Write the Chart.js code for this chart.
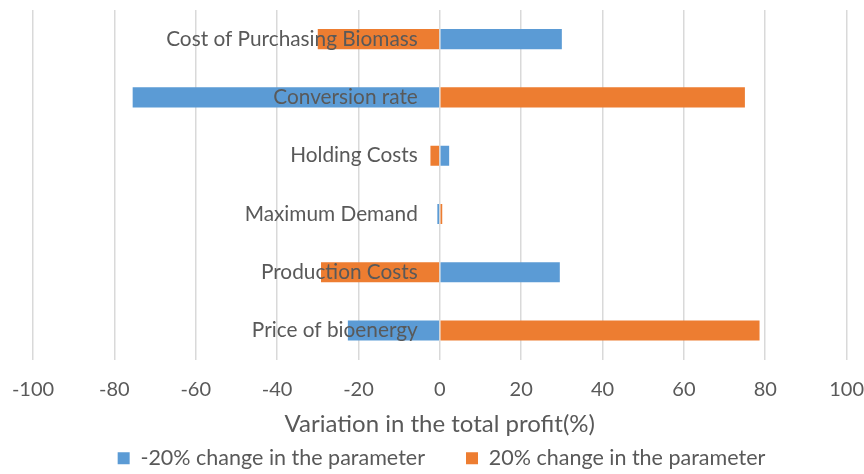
<!DOCTYPE html>
<html>
<head>
<meta charset="utf-8">
<script src="https://cdn.jsdelivr.net/npm/chart.js@4/dist/chart.umd.min.js"></script>
<style>
  html, body { margin: 0; padding: 0; background: #fff; }
  #wrap { width: 864px; height: 474px; }
</style>
</head>
<body>
<div id="wrap"><canvas id="myChart1"></canvas></div>
<script>
const categories = [
  "Cost of Purchasing Biomass",
  "Conversion rate",
  "Holding Costs",
  "Maximum Demand",
  "Production Costs",
  "Price of bioenergy"
];
const minus20 = [30, -75.5, 2.3, -0.6, 29.5, -22.6];
const plus20 = [-30, 75, -2.3, 0.6, -29.2, 78.6];
const seriesNames = ["-20% change in the parameter", "20% change in the parameter"];
const xTicks = [-100, -80, -60, -40, -20, 0, 20, 40, 60, 80, 100];

const fontName = "Lato, 'Open Sans', sans-serif";
const grey = "#595959";

// category names sit just left of the zero line, over the bars
const centerLabels = {
  id: "centerLabels",
  afterDatasetsDraw(chart) {
    const ctx = chart.ctx;
    const xs = chart.scales.x;
    const ys = chart.scales.y;
    const x0 = xs.getPixelForValue(0) - 22;
    ctx.save();
    ctx.font = "20.8px " + fontName;
    ctx.fillStyle = grey;
    ctx.textAlign = "right";
    ctx.textBaseline = "middle";
    categories.forEach((c, i) => {
      ctx.fillText(c, x0, ys.getPixelForValue(i));
    });
    ctx.restore();
  }
};

const ctx = document.getElementById("myChart1");

new Chart(ctx, {
  type: "bar",
  data: {
    labels: categories,
    datasets: [
      {
        label: seriesNames[0],
        data: minus20,
        backgroundColor: "#5B9BD5",
        borderWidth: 0,
        barPercentage: 0.345,
        categoryPercentage: 1
      },
      {
        label: seriesNames[1],
        data: plus20,
        backgroundColor: "#ED7D31",
        borderWidth: 0,
        barPercentage: 0.345,
        categoryPercentage: 1
      }
    ]
  },
  options: {
    indexAxis: "y",
    responsive: true,
    maintainAspectRatio: false,
    animation: false,
    layout: { padding: { left: 33, right: 14, top: 10, bottom: -5 } },
    plugins: {
      legend: {
        position: "bottom",
        labels: {
          boxWidth: 12,
          boxHeight: 12,
          padding: 8,
          color: grey,
          font: { family: fontName, size: 21.5 },
          generateLabels: (chart) => {
            const items = Chart.defaults.plugins.legend.labels.generateLabels(chart);
            items[0].text = items[0].text + "      ";
            return items;
          }
        }
      },
      tooltip: { enabled: false }
    },
    scales: {
      x: {
        stacked: true,
        min: -100,
        max: 100,
        afterBuildTicks: (scale) => { scale.ticks = xTicks.map(v => ({ value: v })); },
        ticks: {
          color: grey,
          padding: 0,
          font: { family: fontName, size: 20 }
        },
        grid: {
          color: "#d9d9d9",
          lineWidth: 1.5,
          drawTicks: true,
          tickLength: 18,
          tickColor: "rgba(0,0,0,0)"
        },
        border: { display: false },
        title: {
          display: true,
          text: "Variation in the total profit(%)",
          color: grey,
          padding: { top: 8, bottom: 1 },
          font: { family: fontName, size: 24 }
        }
      },
      y: {
        stacked: true,
        display: false
      }
    }
  },
  plugins: [centerLabels]
});
</script>
</body>
</html>
